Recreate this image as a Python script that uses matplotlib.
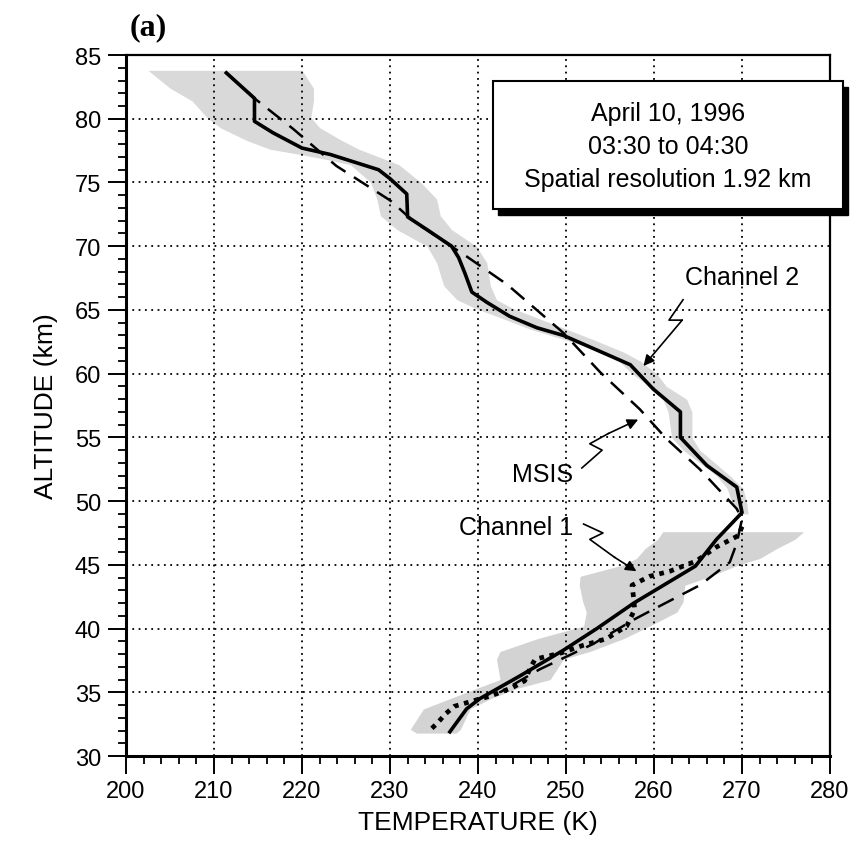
import matplotlib
matplotlib.use("Agg")
import matplotlib.pyplot as plt
import matplotlib.ticker as tckr
from matplotlib.patches import Rectangle

plt.rcParams['font.family'] = ['Liberation Sans', 'DejaVu Sans']

# Channel 2 retrieved temperature (solid)
ch2_temp = [211.4, 214.6, 214.6, 216.7, 220.0, 223.2, 228.7, 230.0, 231.9, 232.0,
            234.2, 237.0, 237.8, 238.5, 239.3, 241.0, 243.6, 246.7, 249.7, 255.0,
            257.3, 259.9, 263.0, 263.0, 266.0, 269.4, 270.0, 267.1, 264.7, 257.7,
            253.5, 249.7, 244.8, 240.2, 238.7, 236.8]
ch2_alt = [83.6, 81.6, 79.8, 78.9, 77.7, 77.2, 76.0, 75.3, 74.1, 72.3,
           71.3, 70.0, 69.1, 67.9, 66.4, 65.6, 64.5, 63.6, 63.0, 61.4,
           60.7, 58.8, 57.0, 55.0, 52.8, 51.1, 49.1, 47.0, 44.9, 42.0,
           40.0, 38.3, 36.3, 34.5, 33.7, 31.9]

# MSIS model (dashed)
msis_temp = [211.4, 214.6, 219.0, 223.9, 230.0, 232.6, 238.7, 243.3, 249.7, 253.9,
             258.4, 261.4, 265.2, 269.4, 270.0, 269.4, 268.6, 265.2, 259.9, 257.7,
             253.1, 247.0, 242.5]
msis_alt = [83.6, 81.6, 79.2, 76.3, 73.6, 72.0, 69.2, 67.0, 63.2, 60.1,
            57.2, 54.9, 52.5, 49.4, 48.6, 46.7, 45.2, 43.4, 41.5, 40.7,
            38.8, 36.8, 35.0]

# Channel 1 retrieved temperature (dotted)
ch1_temp = [270.0, 269.6, 267.1, 264.8, 261.8, 259.5, 257.5, 257.7, 257.8, 256.9,
            254.6, 252.0, 249.5, 246.5, 246.0, 245.3, 244.0, 241.4, 239.8, 237.3,
            236.3, 235.4, 234.5]
ch1_alt = [48.0, 47.3, 46.4, 45.3, 44.5, 44.1, 43.4, 42.3, 41.5, 40.2,
           39.2, 38.7, 38.1, 37.6, 37.0, 35.9, 35.4, 34.7, 34.4, 33.9,
           33.3, 32.6, 32.0]

# uncertainty bands
ch2_band_alt = [83.8, 82.4, 81.4, 80.1, 79.3, 78.3, 77.6, 77.2, 76.8, 76.4,
                75.0, 73.7, 72.4, 71.3, 70.0, 68.7, 66.9, 65.8, 65.1, 64.3,
                63.5, 62.7, 61.7, 61.0, 60.0, 59.0, 58.0, 57.0, 55.0, 54.0,
                52.0, 51.0, 50.0, 49.0]
ch2_band_lo = [202.5, 205.0, 207.5, 209.2, 210.7, 213.7, 216.4, 219.8, 222.8, 225.5,
               227.8, 228.5, 228.9, 230.8, 234.2, 235.3, 236.1, 237.6, 239.8, 242.9,
               245.9, 249.7, 254.2, 256.0, 257.5, 259.5, 261.0, 261.6, 262.0, 263.3,
               267.1, 268.3, 268.8, 269.5]
ch2_band_hi = [220.0, 221.3, 221.3, 221.0, 222.0, 224.5, 226.5, 228.0, 229.5, 231.0,
               233.5, 235.3, 235.7, 237.0, 239.8, 241.0, 241.4, 242.1, 244.0, 247.0,
               250.0, 253.0, 256.5, 258.4, 260.3, 261.4, 263.7, 264.3, 264.3, 265.2,
               268.6, 270.1, 270.5, 270.7]

ch1_band_alt = [47.6, 47.0, 46.3, 45.5, 45.0, 44.1, 43.4, 42.1, 41.3, 40.2,
                39.2, 38.2, 37.6, 36.0, 35.3, 34.5, 33.7, 32.1, 31.8]
ch1_band_lo = [261.0, 260.4, 259.0, 258.0, 256.5, 251.6, 251.5, 251.9, 252.3, 252.0,
               246.7, 242.5, 242.1, 242.5, 239.8, 236.8, 233.8, 232.3, 233.0]
ch1_band_hi = [277.0, 276.0, 274.0, 272.0, 269.6, 266.4, 263.5, 263.3, 262.6, 259.5,
               256.5, 252.7, 249.7, 248.2, 244.4, 241.4, 239.1, 238.0, 237.5]

info_lines = ['April 10, 1996', '03:30 to 04:30', 'Spatial resolution 1.92 km']


fig = plt.figure(figsize=(8.63, 8.45), dpi=100)
ax = fig.add_axes([0.146, 0.1041, 0.8158, 0.8296])

ax.fill_betweenx(ch2_band_alt, ch2_band_lo, ch2_band_hi, color='#d9d9d9', lw=0, zorder=1)
ax.fill_betweenx(ch1_band_alt, ch1_band_lo, ch1_band_hi, color='#d3d3d3', lw=0, zorder=1)

ax.plot(msis_temp, msis_alt, color='black', lw=1.8, linestyle=(0, (7, 4)), zorder=3)
ax.plot(ch1_temp, ch1_alt, color='black', lw=3.4, linestyle=(0, (1, 1.2)), zorder=3)
ax.plot(ch2_temp, ch2_alt, color='black', lw=2.6, zorder=4)

ax.set_xlim(200, 280)
ax.set_ylim(30, 85)
ax.xaxis.set_major_locator(tckr.MultipleLocator(10))
ax.xaxis.set_minor_locator(tckr.MultipleLocator(2))
ax.yaxis.set_major_locator(tckr.MultipleLocator(5))
ax.yaxis.set_minor_locator(tckr.MultipleLocator(1))
ax.tick_params(which='major', direction='out', length=13, width=1.4, labelsize=17)
ax.tick_params(axis='x', which='major', pad=4)
ax.tick_params(axis='y', which='major', pad=5)
ax.tick_params(which='minor', direction='out', length=6, width=1.3)

ax.set_axisbelow(False)
ax.grid(which='major', color='black', linestyle=(0, (1, 2.5)), linewidth=1.3)

for side in ['left', 'bottom']:
    ax.spines[side].set_linewidth(2.2)
for side in ['top', 'right']:
    ax.spines[side].set_linewidth(1.6)

ax.set_xlabel('TEMPERATURE (K)', fontsize=19, labelpad=6)
ax.set_ylabel('ALTITUDE (km)', fontsize=19, labelpad=12)

# info box with drop shadow
shadow = Rectangle((0.529, 0.772), 0.497, 0.183, transform=ax.transAxes,
                   facecolor='black', edgecolor='black', clip_on=False, zorder=8)
box = Rectangle((0.521, 0.780), 0.497, 0.183, transform=ax.transAxes,
                facecolor='white', edgecolor='black', lw=1.5, clip_on=False, zorder=9)
ax.add_patch(shadow)
ax.add_patch(box)
for i, line in enumerate(info_lines):
    ax.text(0.770, 0.917 - i * 0.047, line, transform=ax.transAxes, fontsize=18,
            ha='center', va='center', zorder=10)


def squiggle(path, label, label_xy):
    xs = [p[0] for p in path[:-1]]
    ys = [p[1] for p in path[:-1]]
    ax.plot(xs, ys, color='black', lw=1.2, zorder=6)
    ax.annotate('', xy=path[-1], xytext=path[-2],
                arrowprops=dict(arrowstyle='-|>', color='black', lw=1.2,
                                mutation_scale=16, shrinkA=0, shrinkB=0), zorder=6)
    ax.text(label_xy[0], label_xy[1], label, fontsize=18, ha='center', va='center', zorder=6)


squiggle([(263.3, 65.8), (261.7, 64.2), (263.2, 64.2), (258.8, 60.6)],
         'Channel 2', (270.0, 67.6))
squiggle([(251.8, 52.6), (254.1, 54.0), (252.7, 54.5), (254.8, 55.3), (258.2, 56.4)],
         'MSIS', (247.3, 52.1))
squiggle([(252.0, 48.2), (254.2, 47.5), (252.7, 47.0), (255.5, 45.6), (258.0, 44.5)],
         'Channel 1', (244.3, 48.0))

fig.text(0.1715, 0.967, '(a)', fontsize=23, fontweight='bold',
         family='Liberation Serif', ha='center', va='center')

fig.savefig('out.png', dpi=100)
